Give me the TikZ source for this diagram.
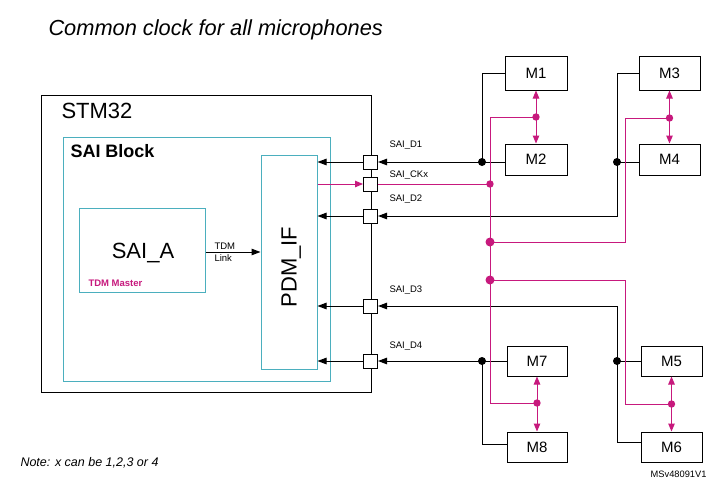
\documentclass[tikz,border=0pt]{standalone}
\usepackage{fontspec}
\setmainfont{Liberation Sans}
\usetikzlibrary{arrows.meta}
\definecolor{stmag}{RGB}{199,25,125}
\definecolor{stteal}{RGB}{75,175,190}
\begin{document}
\begin{tikzpicture}[x=1pt,y=-1pt,line width=1pt,
  blk/.style={draw=black,line width=1pt},
  mag/.style={draw=stmag,line width=1pt},
  tipb/.style={-{Triangle[length=9pt,width=6.5pt]}},
  tipm/.style={-{Triangle[length=8pt,width=6.5pt,fill=stmag]}},
  mic/.style={draw,line width=1pt,minimum width=62pt,inner sep=0pt,font=\fontsize{15}{18}\selectfont},
  port/.style={draw,fill=white,line width=1pt,minimum width=14pt,minimum height=14pt,inner sep=0pt},
  tealbox/.style={draw=stteal,line width=1pt,inner sep=0pt},
  sig/.style={font=\fontsize{9.5}{11}\selectfont,inner sep=0pt,anchor=west},
  bdot/.style={circle,fill=black,inner sep=0pt,minimum size=8pt},
  mdot/.style={circle,fill=stmag,inner sep=0pt,minimum size=7.4pt},
  mdotb/.style={circle,fill=stmag,inner sep=0pt,minimum size=9pt}]
\useasboundingbox (0,0) rectangle (710,482);
\fill[white] (0,0) rectangle (710,482);

% title and notes
\node[anchor=base west,inner sep=0pt,font=\itshape\fontsize{21.8}{26}\selectfont] (title) at (48,35.4) {Common clock for all microphones};
\node[anchor=base west,inner sep=0pt,font=\itshape\fontsize{12.5}{15}\selectfont] (note) at (20,466) {Note: x can be 1,2,3 or 4};
\node[anchor=base east,inner sep=0pt,font=\fontsize{9.3}{11}\selectfont] (ref) at (707,477) {MSv48091V1};

% STM32 blocks
\node[draw,line width=1pt,minimum width=330pt,minimum height=297pt,inner sep=0pt] (stm) at (206,243.5) {};
\node[anchor=west,inner sep=0pt,font=\fontsize{22}{26}\selectfont] (stmlbl) at (61,111) {STM32};
\node[tealbox,minimum width=267pt,minimum height=244pt] (sai) at (196.5,259) {};
\node[anchor=west,inner sep=0pt,font=\bfseries\fontsize{18}{21}\selectfont] (sailbl) at (70,151) {SAI Block};
\node[tealbox,minimum width=126pt,minimum height=84pt] (saia) at (142,250) {};
\node[anchor=base,inner sep=0pt,font=\fontsize{22}{26}\selectfont] (saialbl) at (143,258) {SAI\_A};
\node[anchor=west,inner sep=0pt,text=stmag,font=\bfseries\fontsize{9.5}{11}\selectfont] (tdmm) at (88,283) {TDM Master};
\node[tealbox,minimum width=56pt,minimum height=214pt] (pdm) at (289,262) {};
\node[anchor=base,rotate=90,inner sep=0pt,font=\fontsize{22}{26}\selectfont] (pdmlbl) at (296.5,267) {PDM\_IF};
\node[sig] (tdm1) at (214,246) {TDM};
\node[sig] (tdm2) at (214,258) {Link};
\draw[blk,tipb] ([yshift=-2pt]saia.east) -- (pdm.west |- 0,252);

% ports
\node[port] (p1) at (370.5,162) {};
\node[port] (p2) at (370.5,184) {};
\node[port] (p3) at (370.5,216) {};
\node[port] (p4) at (370.5,306) {};
\node[port] (p5) at (370.5,361) {};
\node[sig] (l1) at (389,145) {SAI\_D1};
\node[sig] (l2) at (389,175) {SAI\_CKx};
\node[sig] (l3) at (389,199) {SAI\_D2};
\node[sig] (l4) at (389,290) {SAI\_D3};
\node[sig] (l5) at (389,346) {SAI\_D4};

\draw[blk,tipb] (p1.west) -- (pdm.east |- p1);
\draw[blk,tipb] (p3.west) -- (pdm.east |- p3);
\draw[blk,tipb] (p4.west) -- (pdm.east |- p4);
\draw[blk,tipb] (p5.west) -- (pdm.east |- p5);
\draw[mag,tipm] (pdm.east |- p2) -- (p2.west);

% microphones
\node[mic,minimum height=34pt] (M1) at (536,73) {M1};
\node[mic,minimum height=31pt] (M2) at (536,159.5) {M2};
\node[mic,minimum width=61pt,minimum height=34pt] (M3) at (669.5,73) {M3};
\node[mic,minimum width=61pt,minimum height=31pt] (M4) at (669.5,159.5) {M4};
\node[mic,minimum width=60pt,minimum height=30pt] (M7) at (537,361) {M7};
\node[mic,minimum width=60pt,minimum height=30pt] (M8) at (537,447) {M8};
\node[mic,minimum width=61pt,minimum height=30pt] (M5) at (671.5,361) {M5};
\node[mic,minimum width=61pt,minimum height=30pt] (M6) at (671.5,447) {M6};

% data junctions
\coordinate (J1) at (482,162);
\coordinate (J2) at (617,162);
\coordinate (J3) at (617,361);
\coordinate (J4) at (482,361);
\draw[blk] (M1.west) -| (J1);
\draw[blk,tipb] (J1 -| M2.west) -- (p1.east);
\draw[blk] (M3.west) -| (J2);
\draw[blk] (J2 -| M4.west) -- (J2);
\draw[blk,tipb] (J2) |- (p3.east);
\draw[blk] (M5.west) -- (J3);
\draw[blk,tipb] (J3) |- (p4.east);
\draw[blk] (J3) |- ([yshift=5pt]M6.west);
\draw[blk,tipb] (M7.west) -- (p5.east);
\draw[blk] (J4) |- ([yshift=3pt]M8.west);

% clock bus
\coordinate (kx) at (625,0);
\coordinate (B1) at (490,117);
\coordinate (B2) at (490,184);
\coordinate (B3) at (490,242);
\coordinate (B4) at (490,280);
\coordinate (B5) at (490,403);
\coordinate (D12) at (536,117);
\coordinate (D34) at (669.5,118);
\coordinate (D78) at (537,403);
\coordinate (D56) at (671.5,404);
\draw[mag] (D12) -- (B1) -- (B5) -- (D78);
\draw[mag] (p2.east) -- (B2);
\draw[mag] (B3) -- (B3 -| kx) |- (D34);
\draw[mag] (B4) -- (B4 -| kx) |- (D56);
\draw[mag,tipm] (D12) -- (M1.south);
\draw[mag,tipm] (D12) -- (M2.north);
\draw[mag,tipm] (D34) -- (M3.south);
\draw[mag,tipm] (D34) -- (M4.north);
\draw[mag,tipm] (D78) -- (M7.south);
\draw[mag,tipm] (D78) -- (M8.north);
\draw[mag,tipm] (D56) -- (M5.south);
\draw[mag,tipm] (D56) -- (M6.north);

% dots
\node[bdot] (j1d) at (J1) {};
\node[bdot] (j2d) at (J2) {};
\node[bdot] (j3d) at (J3) {};
\node[bdot] (j4d) at (J4) {};
\node[mdot] (d12d) at (D12) {};
\node[mdot] (d34d) at (D34) {};
\node[mdot] (d78d) at (D78) {};
\node[mdot] (d56d) at (D56) {};
\node[mdot] (b2d) at (B2) {};
\node[mdotb] (b3d) at (B3) {};
\node[mdotb] (b4d) at (B4) {};
\end{tikzpicture}
\end{document}
